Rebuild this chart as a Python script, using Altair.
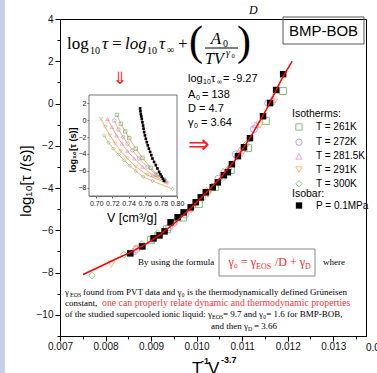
import altair as alt
import pandas as pd

SANS = "Liberation Sans"
SERIF = "Liberation Serif"
SYM = "DejaVu Sans"
OX, OY = 60, 19          # top-left corner of the main plot area in the page
W, H = 306, 317

# ---------------- main panel data ----------------
fit_x = [0.007508, 0.007883, 0.008214, 0.008545, 0.008876, 0.009208, 0.009539, 0.009870,
         0.010201, 0.010532, 0.010863, 0.011194, 0.011525, 0.011857, 0.012099]
fit_y = [-8.09, -7.71, -7.37, -7.04, -6.66, -6.19, -5.62, -4.96,
         -4.25, -3.49, -2.64, -1.55, -0.31, 1.11, 2.01]

isobar_x = [0.008545, 0.008810, 0.009053, 0.009185, 0.009296, 0.009428, 0.009583, 0.009715,
            0.009870, 0.009980, 0.010091, 0.010201, 0.010355, 0.010466, 0.010598, 0.010687,
            0.010775, 0.010907, 0.011040, 0.011172, 0.011459, 0.011614, 0.011746, 0.011901]
isobar_y = [-7.09, -6.76, -6.38, -6.24, -6.05, -5.62, -5.38, -5.15,
            -4.91, -4.67, -4.44, -4.20, -3.96, -3.73, -3.39, -3.25,
            -2.87, -2.49, -2.07, -1.64, -0.60, 0.02, 0.64, 1.39]

iso_names = ["T = 261K", "T = 272K", "T = 281.5K", "T = 291K", "T = 300K"]
iso_colors = ["#45a845", "#8c85d8", "#e478c8", "#f5a04a", "#5cb85c"]
iso_shapes = ["square", "circle", "triangle-up", "triangle-down", "diamond"]
isobar_name = "P = 0.1MPa"

main_iso_x = {
    "T = 261K": [0.01190, 0.01152, 0.01113, 0.01075, 0.01040, 0.01005, 0.00970, 0.00935, 0.00900],
    "T = 272K": [0.01157, 0.01126, 0.01086, 0.01048, 0.01012, 0.00975, 0.00940, 0.00905, 0.00868],
    "T = 281.5K": [0.01166, 0.01130, 0.01095, 0.01058, 0.01022, 0.00985, 0.00950, 0.00912, 0.00875, 0.00860],
    "T = 291K": [0.01170, 0.01139, 0.01100, 0.01062, 0.01025, 0.00988, 0.00952, 0.00915, 0.00870, 0.00813],
    "T = 300K": [0.01108, 0.01070, 0.01060, 0.01024, 0.00990, 0.00955, 0.00914, 0.00880, 0.00840, 0.00770],
}
main_iso_y = {
    "T = 261K": [0.59, -0.83, -2.11, -3.15, -3.95, -4.75, -5.40, -5.95, -6.45],
    "T = 272K": [0.02, -1.21, -2.40, -3.55, -4.45, -5.25, -5.85, -6.40, -6.90],
    "T = 281.5K": [0.21, -1.00, -2.20, -3.20, -4.10, -4.95, -5.60, -6.20, -6.75, -7.00],
    "T = 291K": [0.07, -1.02, -2.35, -3.40, -4.30, -5.05, -5.70, -6.25, -6.85, -7.60],
    "T = 300K": [-1.95, -3.10, -3.49, -4.20, -4.90, -5.50, -6.14, -6.65, -7.15, -8.14],
}

x_ticks = [0.007, 0.0075, 0.008, 0.0085, 0.009, 0.0095, 0.010, 0.0105,
           0.011, 0.0115, 0.012, 0.0125, 0.013, 0.0135]
y_ticks = [-11, -10, -9, -8, -7, -6, -5, -4, -3, -2, -1, 0, 1, 2, 3, 4]

# ---------------- inset data ----------------
inset_iso_x = {
    "T = 261K": [0.7256, 0.7305, 0.7359, 0.7408, 0.7490, 0.7573, 0.7675, 0.7758, 0.7840],
    "T = 272K": [0.7223, 0.7276, 0.7334, 0.7387, 0.7449, 0.7531, 0.7634, 0.7737, 0.7861],
    "T = 281.5K": [0.7140, 0.7194, 0.7252, 0.7317, 0.7387, 0.7470, 0.7573, 0.7696, 0.7861],
    "T = 291K": [0.7058, 0.7112, 0.7169, 0.7235, 0.7305, 0.7387, 0.7490, 0.7634, 0.7881],
    "T = 300K": [0.7099, 0.7153, 0.7210, 0.7276, 0.7346, 0.7416, 0.7490, 0.7581, 0.7696, 0.7943],
}
inset_iso_y = {
    "T = 261K": [0.63, -0.43, -1.33, -2.12, -3.37, -4.47, -5.65, -6.51, -7.10],
    "T = 272K": [-0.04, -1.10, -2.00, -2.78, -3.57, -4.55, -5.53, -6.43, -7.22],
    "T = 281.5K": [0.16, -0.82, -1.80, -2.78, -3.69, -4.55, -5.53, -6.51, -7.29],
    "T = 291K": [0.16, -0.82, -1.80, -2.78, -3.69, -4.55, -5.53, -6.51, -7.49],
    "T = 300K": [-1.80, -2.67, -3.37, -4.08, -4.75, -5.41, -6.04, -6.71, -7.22, -8.16],
}
inset_isobar_x = [0.7543, 0.7547, 0.7552, 0.7558, 0.7564, 0.7572, 0.7580, 0.7586, 0.7593,
                  0.7603, 0.7614, 0.7626, 0.7638, 0.7652, 0.7667, 0.7681, 0.7696, 0.7716,
                  0.7737, 0.7757, 0.7778, 0.7795, 0.7811, 0.7826, 0.7840]
inset_isobar_y = [1.41, 1.08, 0.74, 0.45, 0.15, -0.25, -0.63, -1.00, -1.41,
                  -1.80, -2.20, -2.60, -2.98, -3.37, -3.76, -4.15, -4.55, -4.95,
                  -5.33, -5.72, -6.12, -6.42, -6.70, -6.95, -7.20]
inset_x_ticks = [0.70, 0.72, 0.74, 0.76, 0.78, 0.80]
inset_y_ticks = [2, 0, -2, -4, -6, -8]

# ---------------- tables ----------------
fit_df = pd.DataFrame({"x": fit_x, "y": fit_y})
isobar_df = pd.DataFrame({"x": isobar_x, "y": isobar_y, "series": isobar_name})
main_iso_df = pd.DataFrame([{"x": xv, "y": yv, "series": n}
                            for n in iso_names for xv, yv in zip(main_iso_x[n], main_iso_y[n])])
inset_iso_df = pd.DataFrame([{"x": xv, "y": yv, "series": n}
                             for n in iso_names for xv, yv in zip(inset_iso_x[n], inset_iso_y[n])])
inset_isobar_df = pd.DataFrame({"x": inset_isobar_x, "y": inset_isobar_y})
ONE = pd.DataFrame({"k": [0]})

# ---------------- main encodings ----------------
major_x = "round(datum.value*2000) % 2 == 0"
major_y = "datum.value % 2 == 0"
X_MAIN = alt.X("x:Q", title="",
               scale=alt.Scale(domain=[0.007, 0.01372], nice=False, zero=False),
               axis=alt.Axis(values=x_ticks, grid=False,
                             labelExpr=major_x + " ? format(datum.value, '.3f') : ''",
                             tickSize={"condition": {"test": major_x, "value": 5}, "value": 3},
                             labelFont=SANS, labelFontSize=10, labelColor="#111",
                             tickColor="black", domainColor="black",
                             labelFlush=False, labelOverlap=False, labelPadding=0))
Y_MAIN = alt.Y("y:Q", title="",
               scale=alt.Scale(domain=[-11, 4], nice=False, zero=False),
               axis=alt.Axis(values=y_ticks, grid=False,
                             labelExpr=major_y + " ? datum.label : ''",
                             tickSize={"condition": {"test": major_y, "value": 5}, "value": 3},
                             labelFont=SANS, labelFontSize=10, labelColor="#111",
                             tickColor="black", domainColor="black",
                             labelFlush=False, labelOverlap=False, labelPadding=2))

leg_common = dict(orient="none", padding=0, titleFont=SANS, titleFontSize=10.5,
                  titleFontWeight="normal", titleColor="black",
                  labelFont=SANS, labelFontSize=10, labelColor="black",
                  symbolSize=40, symbolStrokeWidth=1, rowPadding=3.2,
                  symbolOffset=2, labelOffset=12)
leg_iso = alt.Legend(title="Isotherms:", legendX=232, legendY=90, titlePadding=2.5, **leg_common)
leg_bar = alt.Legend(title="Isobar:", legendX=232, legendY=170, titlePadding=1, **leg_common)

iso_pts = alt.Chart(main_iso_df).mark_point(filled=False, size=48, strokeWidth=1).encode(
    x=X_MAIN, y=Y_MAIN,
    color=alt.Color("series:N", scale=alt.Scale(domain=iso_names, range=iso_colors), legend=leg_iso),
    shape=alt.Shape("series:N", scale=alt.Scale(domain=iso_names, range=iso_shapes), legend=leg_iso),
)
bar_pts = alt.Chart(isobar_df).mark_square(size=42, opacity=1).encode(
    x=X_MAIN, y=Y_MAIN,
    fill=alt.Fill("series:N", scale=alt.Scale(domain=[isobar_name], range=["black"]), legend=leg_bar),
)
fit_line = alt.Chart(fit_df).mark_line(color="#ff0000", strokeWidth=1.5).encode(x=X_MAIN, y=Y_MAIN)
main = alt.layer(iso_pts, bar_pts, fit_line)

# ---------------- inset ----------------
X_IN = alt.X("x:Q", title="",
             scale=alt.Scale(domain=[0.691, 0.80], range=[29, 117], nice=False, zero=False),
             axis=alt.Axis(orient="bottom", offset=-140, values=inset_x_ticks, format=".2f",
                           grid=False, labelFont=SANS, labelFontSize=7, labelColor="#111",
                           tickSize=2, labelPadding=1, tickColor="#666", domainColor="#666",
                           labelFlush=False, labelOverlap=False))
Y_IN = alt.Y("y:Q", title="",
             scale=alt.Scale(domain=[-9, 3], range=[177, 76], nice=False, zero=False),
             axis=alt.Axis(orient="left", offset=-29, values=inset_y_ticks,
                           grid=False, labelFont=SANS, labelFontSize=7, labelColor="#111",
                           tickSize=2, labelPadding=1, tickColor="#666", domainColor="#666",
                           labelFlush=False, labelOverlap=False))

inset_frame = alt.Chart(ONE).mark_rect(fill="white", stroke="#777", strokeWidth=1).encode(
    x=alt.value(29), x2=alt.value(117), y=alt.value(76), y2=alt.value(177))
inset_lines = alt.Chart(inset_iso_df).mark_line(color="#f7a36b", strokeWidth=0.9).encode(
    x=X_IN, y=Y_IN, detail="series:N")
inset_layers = [inset_frame, inset_lines]
for n, c, s in zip(iso_names, iso_colors, iso_shapes):
    inset_layers.append(
        alt.Chart(inset_iso_df[inset_iso_df.series == n]).mark_point(
            shape=s, color=c, filled=False, size=12, strokeWidth=0.8).encode(x=X_IN, y=Y_IN))
inset_layers.append(alt.Chart(inset_isobar_df).mark_line(color="#e02020", strokeWidth=0.8).encode(x=X_IN, y=Y_IN))
inset_layers.append(alt.Chart(inset_isobar_df).mark_square(color="black", size=7, opacity=1).encode(x=X_IN, y=Y_IN))
inset = alt.layer(*inset_layers)


# ---------------- annotations ----------------
def txt(s, px, py, size=11, font=SANS, color="black", align="left", baseline="alphabetic",
        weight="normal", style="normal", angle=None):
    props = dict(text=s, align=align, baseline=baseline, font=font, fontSize=size,
                 color=color, fontWeight=weight, fontStyle=style)
    if angle is not None:
        props["angle"] = angle
    return alt.Chart(ONE).mark_text(**props).encode(x=alt.value(px - OX), y=alt.value(py - OY))


def box(x0, y0, x1, y1, stroke="#555", fill="white", fill_opacity=0.0, sw=1.0):
    return alt.Chart(ONE).mark_rect(stroke=stroke, strokeWidth=sw, fill=fill, fillOpacity=fill_opacity).encode(
        x=alt.value(x0 - OX), x2=alt.value(x1 - OX), y=alt.value(y0 - OY), y2=alt.value(y1 - OY))


def hline(x0, x1, y, color="black", sw=1.0):
    return alt.Chart(ONE).mark_rule(color=color, strokeWidth=sw).encode(
        x=alt.value(x0 - OX), x2=alt.value(x1 - OX), y=alt.value(y - OY))


RED = "#ee2a2a"
ann = [
    box(0, 0, 5, 373, stroke="#c6d0ea", fill="#c6d0ea", fill_opacity=1.0, sw=0),
    # axis titles
    txt("log₁₀[τ /(s)]", 26, 181, size=15, align="center", baseline="middle", angle=270),
    txt("T", 192, 374, size=17),
    txt("-1", 201, 364, size=9, weight="bold"),
    txt("V", 208, 374, size=17),
    txt("-3.7", 221, 363, size=9, weight="bold"),
    txt("0.014", 378.5, 351, size=10, align="center"),
    # top formula
    txt("log", 67, 49, size=17, font=SERIF),
    txt("10", 90, 54, size=10, font=SERIF),
    txt("τ", 102, 49, size=17, font=SERIF, style="italic"),
    txt("=", 112, 49, size=17, font=SERIF),
    txt("log", 125, 49, size=17, font=SERIF, style="italic"),
    txt("10", 147, 54, size=10, font=SERIF),
    txt("τ", 159, 49, size=17, font=SERIF, style="italic"),
    txt("∞", 167, 53, size=10, font=SERIF),
    txt("+", 178, 49, size=17, font=SERIF),
    txt("(", 196, 55, size=42, font=SERIF, align="center"),
    txt(")", 244, 55, size=42, font=SERIF, align="center"),
    txt("A", 216, 44, size=17, font=SERIF, style="italic", align="center"),
    txt("0", 223, 47, size=10, font=SERIF),
    hline(205, 238, 48, sw=1.2),
    txt("TV", 205, 64, size=16, font=SERIF, style="italic"),
    txt("γ", 226, 56, size=10, font=SERIF, style="italic"),
    txt("0", 231.5, 58, size=6.5, font=SERIF),
    txt("D", 249, 14, size=12, font=SERIF, style="italic"),
    # arrows
    txt("⇓", 120, 79, size=17, font=SYM, color="#ff2020", align="center", baseline="middle"),
    txt("⇒", 199, 145, size=26, font=SYM, color="#ff2020", align="center", baseline="middle"),
    # parameters
    txt("log", 188, 82, size=11),
    txt("10", 203, 84, size=7),
    txt("τ", 211, 82, size=11),
    txt("∞", 217, 84, size=7),
    txt("= -9.27", 223, 82, size=11),
    txt("A", 188, 98, size=11),
    txt("0", 196, 100, size=7),
    txt("= 138", 202, 98, size=11),
    txt("D = 4.7", 188, 112, size=11),
    txt("γ", 188, 126, size=11),
    txt("0", 194, 128, size=7),
    txt("= 3.64", 201, 126, size=11),
    # BMP-BOB label
    box(283, 17, 364, 44, stroke="#555"),
    txt("BMP-BOB", 323.5, 31, size=15, align="center", baseline="middle"),
    # explanatory text
    txt("By using the formula", 138, 265, size=9, font=SERIF),
    box(219, 249, 315, 276, stroke="#888"),
    txt("γ₀ = γ", 256, 266, size=12, font=SERIF, color=RED, align="right"),
    txt("EOS", 256, 269, size=8, font=SERIF, color=RED),
    txt("/D + γ", 275, 266, size=12, font=SERIF, color=RED),
    txt("D", 305, 269, size=8, font=SERIF, color=RED),
    txt("where", 323, 265, size=9, font=SERIF),
    txt("γ", 65, 295, size=9, font=SERIF),
    txt("EOS", 70, 297, size=6, font=SERIF),
    txt("found from PVT data and  γ₀ is the thermodynamically defined Grüneisen", 83, 295, size=9, font=SERIF),
    txt("constant,", 65, 306, size=9, font=SERIF),
    txt("one can properly relate dynamic and thermodynamic properties", 102, 306, size=9.8, font=SERIF, color="#ee3b3b"),
    txt("of the studied supercooled ionic liquid: γ", 212, 317, size=9, font=SERIF, align="right"),
    txt("EOS", 212, 319, size=6, font=SERIF),
    txt("= 9.7 and  γ₀= 1.6 for BMP-BOB,", 223, 317, size=9, font=SERIF),
    txt("and then γ", 248, 329, size=9, font=SERIF, align="right"),
    txt("D", 248, 331, size=6, font=SERIF),
    txt("= 3.66", 254, 329, size=9, font=SERIF),
    # inset axis titles
    txt("log₁₀[τ (s)]", 73, 150, size=9, weight="bold", align="center", baseline="middle", angle=270),
    txt("V [cm³/g]", 132, 218, size=12.5, align="center", baseline="middle"),
]

chart = alt.layer(main, inset, *ann).resolve_scale(x="independent", y="independent").properties(
    width=W, height=H,
    autosize=alt.AutoSizeParams(type="none"),
    padding={"left": OX, "top": OY, "right": 377 - OX - W, "bottom": 373 - OY - H},
    background="white",
).configure_view(stroke="black", strokeWidth=1)

chart.save("out.html", embed_options={"renderer": "svg", "actions": False})
